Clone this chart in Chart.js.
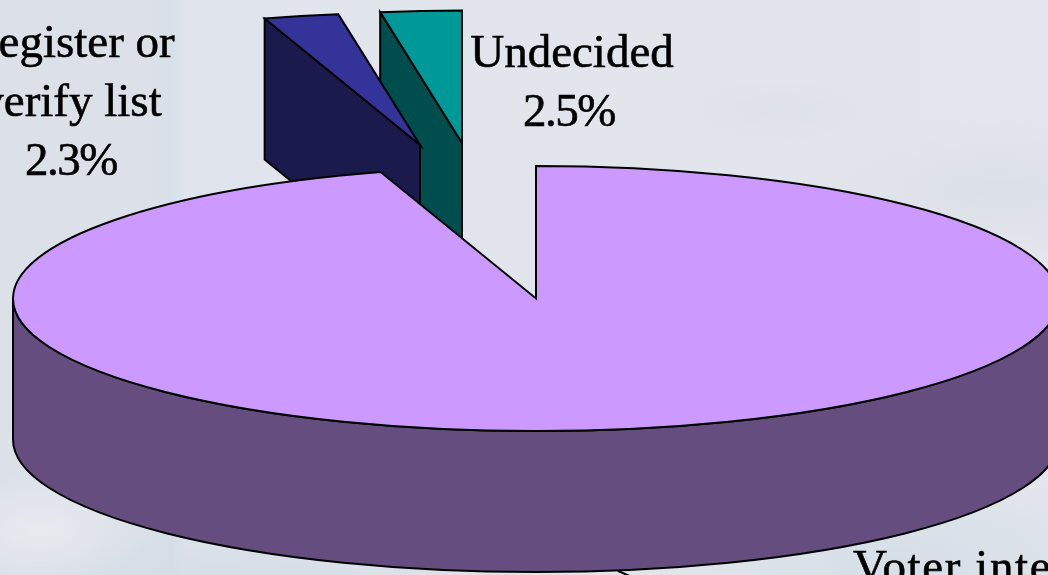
<!DOCTYPE html>
<html>
<head>
<meta charset="utf-8">
<script src="https://cdn.jsdelivr.net/npm/chart.js@4"></script>
<style>
html,body{margin:0;padding:0;width:1048px;height:575px;overflow:hidden;background-color:#e2e6ec;
background-image:
 radial-gradient(ellipse 110px 60px at 40px 530px,rgba(232,235,239,.95),transparent),
 radial-gradient(ellipse 120px 40px at 780px 110px,rgba(214,219,228,.4),transparent),
 radial-gradient(ellipse 200px 70px at 1000px 190px,rgba(210,216,225,.45),transparent),
 radial-gradient(ellipse 260px 90px at 900px 560px,rgba(210,220,230,.8),transparent),
 radial-gradient(ellipse 300px 60px at 250px 575px,rgba(210,218,228,.7),transparent),
 linear-gradient(90deg,#dbe0e9 0,#dbe0e9 155px,#d6e0e8 172px,#e0e4ec 185px,#e3e6ec 100%);}
canvas{display:block}
</style>
</head>
<body>
<canvas id="c" width="1048" height="575"></canvas>
<script>
const categories = ['Voter intention', 'Register or verify list', 'Undecided'];
const shares = [95.2, 2.3, 2.5];
const shareLabels = ['95.2%', '2.3%', '2.5%'];
const topColors = ['#CC99FF', '#333399', '#009999'];
const sideColors = ['#654D7F', '#1A1A4D', '#004D4D'];

const RADIUS = 523, SQUASH = 132.5 / 523, DEPTH = 141;
const explode = [[0, 0], [-116, -153.5], [-74, -155.5]];
const FONT = '47px "Liberation Serif"';

function strokeStyle(ctx) {
  ctx.strokeStyle = '#000'; ctx.lineWidth = 2; ctx.lineJoin = 'miter';
}

const pie3d = {
  id: 'pie3d',
  beforeDatasetDraw(chart, args) {
    const ctx = chart.ctx, arcs = args.meta.data;
    const drawOrder = [2, 1, 0];
    drawOrder.forEach(i => {
      const a = arcs[i];
      const x = a.x + explode[i][0], y = a.y + explode[i][1];
      const R = a.outerRadius, r = R * SQUASH;
      ctx.save();
      strokeStyle(ctx);
      ctx.fillStyle = sideColors[i];
      ctx.beginPath();
      if (i === 0) {
        ctx.ellipse(x, y, R, r, 0, 0, Math.PI, false);
        ctx.ellipse(x, y + DEPTH, R, r, 0, Math.PI, 0, true);
      } else {
        const px = x + R * Math.cos(a.startAngle), py = y + r * Math.sin(a.startAngle);
        ctx.moveTo(x, y); ctx.lineTo(px, py);
        ctx.lineTo(px, py + DEPTH); ctx.lineTo(x, y + DEPTH);
      }
      ctx.closePath(); ctx.fill(); ctx.stroke();

      ctx.save();
      ctx.translate(x, y); ctx.scale(1, SQUASH); ctx.translate(-a.x, -a.y);
      a.draw(ctx);
      ctx.restore();

      ctx.beginPath();
      ctx.moveTo(x, y);
      ctx.ellipse(x, y, R, r, 0, a.startAngle, a.endAngle, false);
      ctx.closePath(); ctx.stroke();
      ctx.restore();
    });
    return false;
  },
  afterDraw(chart) {
    const ctx = chart.ctx;
    ctx.save();
    strokeStyle(ctx);
    ctx.beginPath(); ctx.moveTo(618, 571); ctx.lineTo(632, 577); ctx.stroke();
    ctx.font = FONT; ctx.fillStyle = '#000'; ctx.strokeStyle = '#000'; ctx.lineWidth = .6;
    ctx.textBaseline = 'alphabetic';
    const put = (t, x, y, al, sp) => {
      ctx.letterSpacing = (sp || 0) + 'px';
      ctx.textAlign = al; ctx.fillText(t, x, y); ctx.strokeText(t, x, y);
    };
    const reg = categories[1].split(' ');
    put(reg.slice(0, 2).join(' '), 71, 57, 'center');
    put(reg.slice(2).join(' '), 71, 116, 'center');
    put(shareLabels[1], 71, 175, 'center', -1.5);
    put(categories[2], 572, 67, 'center');
    put(shareLabels[2], 569, 126, 'center', -1.5);
    put(categories[0], 853, 582, 'left', 1.6);
    ctx.restore();
  }
};

new Chart(document.getElementById('c'), {
  type: 'pie',
  data: { labels: categories, datasets: [{ data: shares, backgroundColor: topColors, borderWidth: 0 }] },
  options: {
    responsive: false, animation: false, radius: RADIUS,
    layout: { padding: { left: 24, top: 22 } },
    plugins: { legend: { display: false }, tooltip: { enabled: false } }
  },
  plugins: [pie3d]
});
</script>
</body>
</html>
